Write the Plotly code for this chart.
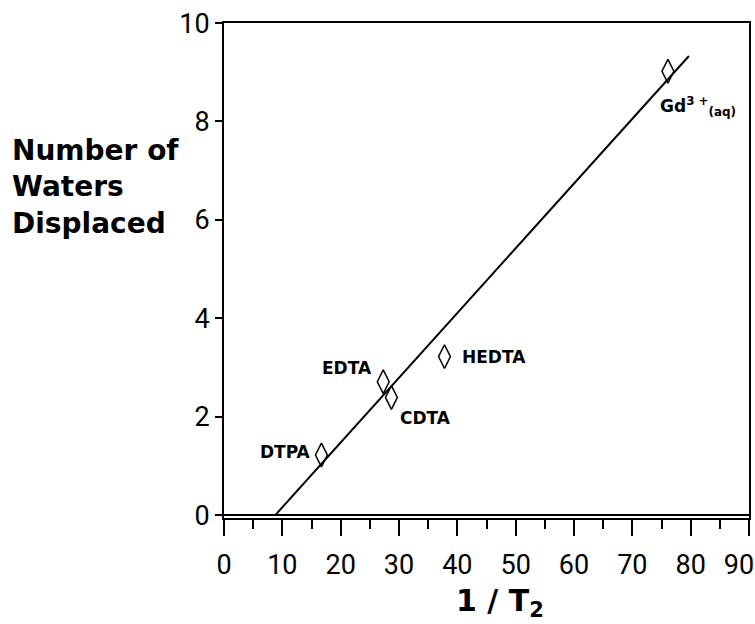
import plotly.graph_objects as go

# Data
compounds = ["DTPA", "EDTA", "CDTA", "HEDTA", "Gd3+(aq)"]
inv_t2 = [16.7, 27.3, 28.7, 37.8, 76.1]
waters = [1.22, 2.71, 2.39, 3.22, 9.02]

fit_x = [8.8, 79.7]
fit_y = [0.0, 9.33]

x_ticks = [0, 10, 20, 30, 40, 50, 60, 70, 80, 90]
x_tick_labels = ["0", "10", "20", "30", "40", "50", "60", "70", "80", "90\u00a0\u00a0\u00a0"]
y_ticks = [0, 2, 4, 6, 8, 10]

label_text = ["DTPA", "EDTA", "CDTA", "HEDTA", "Gd<sup>3 +</sup><sub>(aq)</sub>"]
label_dx = [-8, -9, 7, 15, 30]
label_dy = [-3, -14, 21, 0, 35]
label_anchor = ["right", "right", "left", "left", "center"]

tick_font = dict(family="Roboto, sans-serif", size=27, color="black")
lab_font = dict(family="DejaVu Sans, sans-serif", size=17, color="black", weight="bold")

fig = go.Figure()

fig.add_trace(go.Scatter(
    x=fit_x, y=fit_y, mode="lines",
    line=dict(color="black", width=2), showlegend=False, hoverinfo="skip"))

fig.add_trace(go.Scatter(
    x=inv_t2, y=waters, mode="markers",
    marker=dict(symbol="diamond-tall-open", size=17, color="black",
                line=dict(color="black", width=1.5)),
    showlegend=False))

for xv, yv, t, dx, dy, an in zip(inv_t2, waters, label_text, label_dx, label_dy, label_anchor):
    fig.add_annotation(x=xv, y=yv, text=t, showarrow=True, arrowcolor="rgba(0,0,0,0)",
                       ax=dx, ay=dy, xanchor=an, yanchor="middle",
                       font=lab_font)

fig.update_layout(
    width=755, height=624,
    margin=dict(l=224, r=6, t=23, b=106, autoexpand=False),
    paper_bgcolor="white", plot_bgcolor="white",
    xaxis=dict(range=[0, 90], tickvals=x_ticks, ticktext=x_tick_labels,
               automargin=False, ticklabelstandoff=6, ticklabeloverflow="allow",
               showline=True, linecolor="black", linewidth=2, mirror=True,
               ticks="outside", ticklen=16, tickwidth=2, tickcolor="black",
               minor=dict(dtick=5, tick0=0, ticks="outside", ticklen=9, tickwidth=2, tickcolor="black"),
               showgrid=False, zeroline=False, tickfont=tick_font),
    yaxis=dict(range=[-0.06, 10.001], tickvals=y_ticks, ticktext=[str(v) for v in y_ticks],
               automargin=False,
               showline=True, linecolor="black", linewidth=2, mirror=True,
               ticks="outside", ticklen=7, tickwidth=1.5, tickcolor="black",
               showgrid=False, zeroline=True, zerolinecolor="black", zerolinewidth=2,
               tickfont=tick_font),
)

fig.add_annotation(xref="paper", yref="paper", x=0.525, y=-0.128, xanchor="center", yanchor="top",
                   text="1 / T<sub>2</sub>", showarrow=False,
                   font=dict(family="DejaVu Sans, sans-serif", size=30, color="black", weight="bold"))

fig.add_annotation(xref="paper", yref="paper", x=-0.408, y=0.78, xanchor="left", yanchor="top",
                   text="Number of<br>Waters<br>Displaced", align="left", showarrow=False,
                   font=dict(family="DejaVu Sans, sans-serif", size=28, color="black", weight="bold"))

fig.write_html("out.html", config={"displayModeBar": False},
               post_script="document.body.style.margin='0';document.body.style.overflow='hidden';")
